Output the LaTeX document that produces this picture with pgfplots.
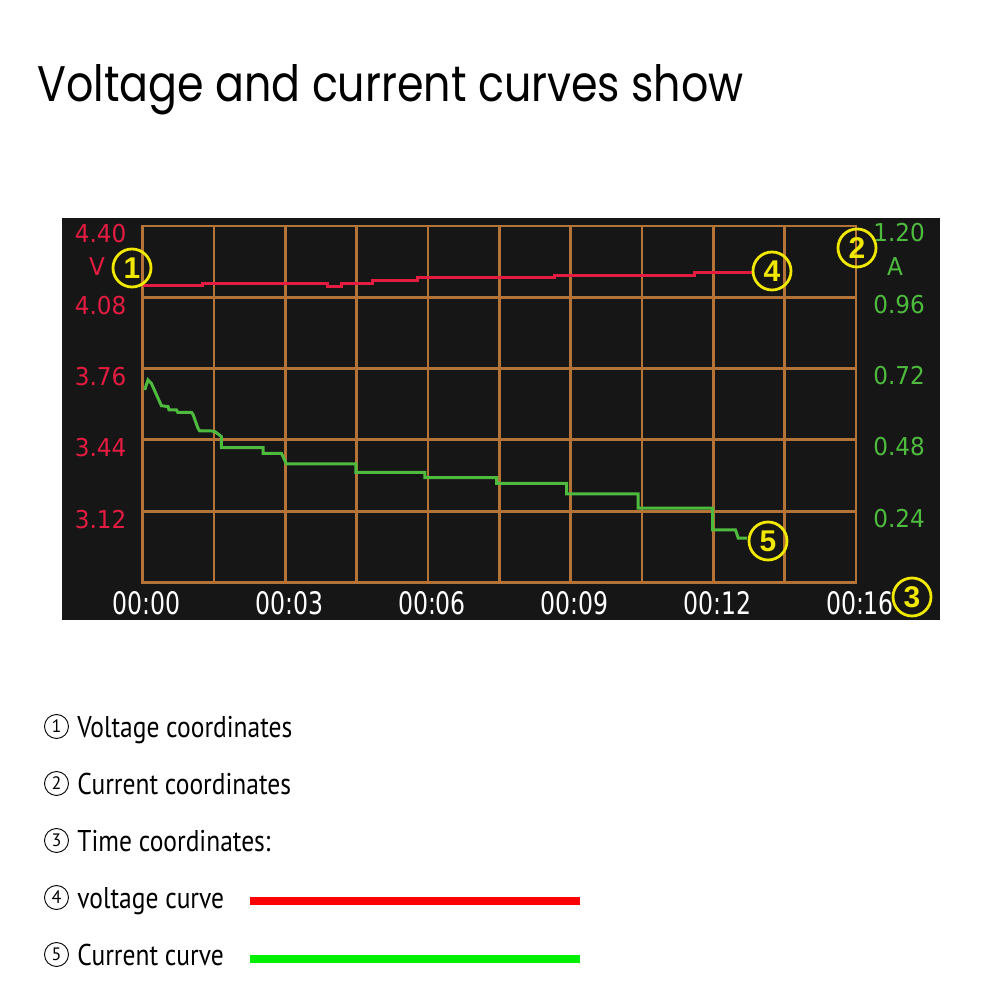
\documentclass[border=0pt]{standalone}
\usepackage{pgfplots}
\pgfplotsset{compat=1.18}
\usepackage{fontspec}
\setmainfont{PT Sans}
\newfontfamily\titlefont[FakeStretch=0.855]{Poppins}
\newfontfamily\legfont[FakeStretch=0.85]{PT Sans}
\newfontfamily\cfont{PT Sans}
\newfontfamily\lcdY[FakeStretch=0.94]{DejaVu Sans}
\newfontfamily\lcdX[FakeStretch=0.76]{DejaVu Sans}
\newfontfamily\markfont{Liberation Sans}
\definecolor{panel}{RGB}{22,22,22}
\definecolor{copper}{RGB}{180,115,55}
\definecolor{vred}{RGB}{228,28,66}
\definecolor{igreen}{RGB}{78,186,62}
\definecolor{mark}{RGB}{240,232,0}
\definecolor{legred}{RGB}{255,0,0}
\definecolor{leggreen}{RGB}{0,240,0}

\pgfplotstableread{
u V
0     4.132
0.837 4.132
0.837 4.141
2.595 4.141
2.595 4.130
2.787 4.130
2.787 4.143
3.226 4.143
3.226 4.155
3.857 4.155
3.857 4.170
5.778 4.170
5.778 4.180
7.742 4.180
7.742 4.192
8.54  4.192
}\voltage

\pgfplotstableread{
u I
0.028 0.648
0.074 0.682
0.122 0.670
0.262 0.595
0.355 0.592
0.369 0.581
0.473 0.581
0.491 0.573
0.683 0.573
0.705 0.566
0.775 0.519
0.799 0.510
0.963 0.510
1.010 0.508
1.056 0.500
1.104 0.491
1.104 0.454
1.687 0.454
1.687 0.435
1.945 0.435
2.015 0.399
2.987 0.399
2.987 0.371
3.955 0.371
3.955 0.353
4.960 0.353
4.960 0.334
5.942 0.334
5.942 0.298
6.946 0.298
6.946 0.250
7.989 0.250
7.989 0.177
8.310 0.177
8.350 0.149
8.474 0.149
}\current

\begin{document}
\begin{tikzpicture}
\useasboundingbox (0,0) rectangle (500pt,500pt);
\fill[white] (0,0) rectangle (500pt,500pt);
\fill[panel] (31pt,190pt) rectangle (470pt,391pt);
\node[anchor=base west, inner sep=0pt, font=\titlefont\fontsize{25}{25}\selectfont] at (18.5pt,449.15pt) {Voltage and current curves show};

\begin{axis}[
  at={(71.35pt,208.75pt)}, anchor=south west,
  scale only axis, width=356.65pt, height=178.25pt,
  xmin=0, xmax=10, ymin=2.8, ymax=4.4,
  xtick={0,1,...,10},
  xticklabels={00:00,,00:03,,00:06,,00:09,,00:12,,00:16},
  ytick={2.8,3.12,3.44,3.76,4.08,4.4},
  yticklabels={,3.12,3.44,3.76,4.08,4.40},
  grid=major,
  major grid style={draw=copper, line width=1.4pt},
  axis line style={draw=copper, line width=1.4pt},
  tick style={draw=none},
  xticklabel style={font=\lcdX\fontsize{15.5}{15.5}\selectfont, text=white, anchor=center, inner sep=0pt, yshift=-10.25pt, xshift=2pt},
  yticklabel style={font=\lcdY\fontsize{12.3}{12.3}\selectfont, text=vred, anchor=east, inner sep=0pt, xshift=-8pt, yshift=-4pt},
  clip=false,
]
\addplot[vred, line width=1.5pt] table[x=u, y=V] {\voltage};
\end{axis}

\begin{axis}[
  at={(71.35pt,208.75pt)}, anchor=south west,
  scale only axis, width=356.65pt, height=178.25pt,
  xmin=0, xmax=10, ymin=0, ymax=1.2,
  hide x axis,
  axis y line*=right,
  y axis line style={draw=none},
  ytick={0.24,0.48,0.72,0.96,1.2},
  yticklabels={0.24,0.48,0.72,0.96,1.20},
  tick style={draw=none},
  yticklabel style={font=\lcdY\fontsize{12.3}{12.3}\selectfont, text=igreen, anchor=west, inner sep=0pt, xshift=8.5pt, yshift=-3.5pt},
  clip=false,
]
\addplot[igreen, line width=1.5pt] table[x=u, y=I] {\current};
\end{axis}

% unit labels
\node[font=\lcdY\fontsize{12.3}{12.3}\selectfont, text=vred, inner sep=0pt] at (48.5pt,366.5pt) {V};
\node[font=\lcdY\fontsize{12.3}{12.3}\selectfont, text=igreen, inner sep=0pt] at (447.5pt,366.5pt) {A};

% yellow circled markers
\tikzset{ymark/.style={draw=mark, circle, line width=1.4pt, minimum size=19pt, inner sep=0pt, text=mark, font=\markfont\bfseries\fontsize{15}{15}\selectfont}}
\node[ymark] at (66pt,366pt) {1};
\node[ymark] at (428.5pt,376pt) {2};
\node[ymark] at (456pt,201.5pt) {3};
\node[ymark] at (386pt,364.5pt) {4};
\node[ymark] at (384pt,229.5pt) {5};

% explanation list
\tikzset{cmark/.style={draw=black, circle, line width=0.45pt, minimum size=12pt, inner sep=0pt, font=\cfont\fontsize{9}{9}\selectfont}}
\foreach \n/\t [count=\i from 0] in {1/Voltage coordinates,2/Current coordinates,3/Time coordinates:,4/voltage curve,5/Current curve}{
  \node[cmark] at (28.25pt,{136.75pt-\i*28.5pt}) {\n};
  \node[anchor=base west, inner sep=0pt, font=\legfont\fontsize{15}{15}\selectfont] at (38.5pt,{131.3pt-\i*28.5pt}) {\t};
}
\draw[legred, line width=4pt] (125pt,49.5pt) -- (290pt,49.5pt);
\draw[leggreen, line width=4pt] (125pt,20.5pt) -- (290pt,20.5pt);
\end{tikzpicture}
\end{document}
